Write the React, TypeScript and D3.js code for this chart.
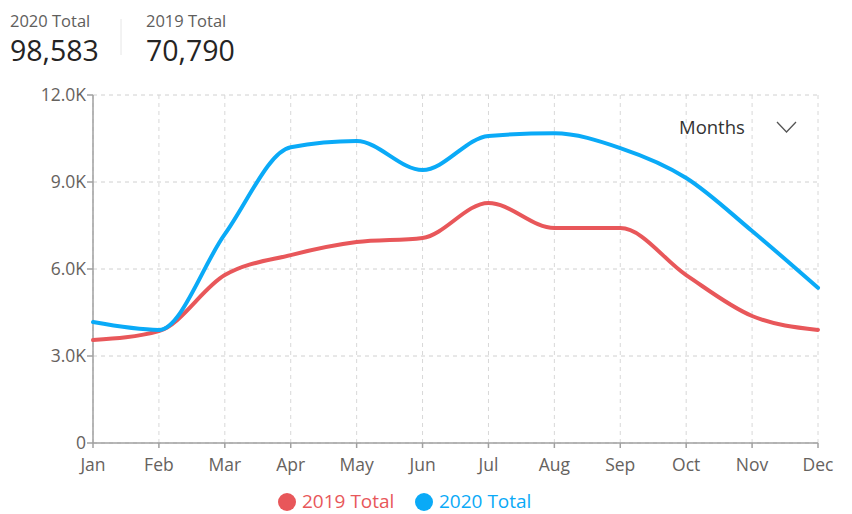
import React from "react";
import * as d3 from "d3";

const months = ["Jan", "Feb", "Mar", "Apr", "May", "Jun", "Jul", "Aug", "Sep", "Oct", "Nov", "Dec"];
const values2019 = [3550, 3860, 5790, 6480, 6930, 7070, 8280, 7410, 7410, 5790, 4380, 3900];
const values2020 = [4170, 3900, 7200, 10200, 10410, 9410, 10590, 10680, 10170, 9140, 7310, 5350];
const yTicks = [0, 3000, 6000, 9000, 12000];
const kpis = [
  { label: "2020 Total", value: "98,583" },
  { label: "2019 Total", value: "70,790" },
];
const series = [
  { name: "2019 Total", values: values2019, color: "#E8575A" },
  { name: "2020 Total", values: values2020, color: "#0AAAF7" },
];

const W = 852;
const H = 514;
const left = 93;
const right = 818;
const top = 95;
const bottom = 443;
const font = "'Segoe UI', 'Open Sans', 'Noto Sans', sans-serif";

export default function App() {
  const x = d3.scalePoint<string>().domain(months).range([left, right]);
  const y = d3.scaleLinear().domain([0, 12000]).range([bottom, top]);
  const fmt = (v: number) => (v === 0 ? "0" : d3.format(".1f")(v / 1000) + "K");
  const line = d3
    .line<number>()
    .x((_, i) => x(months[i]) as number)
    .y((d) => y(d))
    .curve(d3.curveMonotoneX);

  return (
    <div style={{ position: "absolute", left: 0, top: 0 }}>
      <svg width={W} height={H} style={{ display: "block", fontFamily: font }}>
        <rect width={W} height={H} fill="#fff" />
        {/* KPIs */}
        {kpis.map((k, i) => (
          <g key={k.label} transform={`translate(${10 + i * 136},0)`}>
            <text x={0} y={27} fontSize={16.5} fill="#605E5C">{k.label}</text>
            <text x={0} y={61} fontSize={28.5} fill="#252423">{k.value}</text>
          </g>
        ))}
        <line x1={121} x2={121} y1={19} y2={55} stroke="#E6E6E6" strokeWidth={1} />

        {/* grid */}
        {yTicks.map((t) => (
          <line key={"gy" + t} x1={left} x2={right} y1={y(t)} y2={y(t)} stroke="#D0D0D0" strokeDasharray="4,4" />
        ))}
        {months.map((m) => (
          <line key={"gx" + m} x1={x(m)} x2={x(m)} y1={top} y2={bottom} stroke="#D8D8D8" strokeDasharray="4,4" />
        ))}

        {/* axes */}
        <line x1={left} x2={left} y1={top} y2={bottom} stroke="#A0A0A0" strokeWidth={1.5} />
        <line x1={left} x2={right} y1={bottom} y2={bottom} stroke="#A0A0A0" strokeWidth={1.5} />
        {yTicks.map((t) => (
          <g key={"yt" + t}>
            <line x1={left - 6} x2={left} y1={y(t)} y2={y(t)} stroke="#A0A0A0" strokeWidth={1.5} />
            <text x={left - 7} y={y(t)} dy="0.35em" textAnchor="end" fontSize={17.5} fill="#66625E">{fmt(t)}</text>
          </g>
        ))}
        {months.map((m) => (
          <g key={"xt" + m}>
            <line x1={x(m)} x2={x(m)} y1={bottom} y2={bottom + 5} stroke="#A0A0A0" strokeWidth={1.5} />
            <text x={x(m)} y={bottom + 28} textAnchor="middle" fontSize={17.5} fill="#66625E">{m}</text>
          </g>
        ))}

        {/* lines */}
        {series.map((s) => (
          <path key={s.name} d={line(s.values) || ""} fill="none" stroke={s.color} strokeWidth={4} strokeLinecap="round" strokeLinejoin="round" />
        ))}

        {/* Months dropdown */}
        <text x={679} y={134} fontSize={18.5} fill="#333">Months</text>
        <path d="M777,122 L786.5,132 L796,122" fill="none" stroke="#555" strokeWidth={1.3} />

        {/* legend */}
        {series.map((s, i) => (
          <g key={"lg" + s.name} transform={`translate(${287 + i * 137},501)`}>
            <circle cx={0} cy={1} r={9} fill={s.color} />
            <text x={15} y={0} dy="0.35em" fontSize={19} fill={s.color}>{s.name}</text>
          </g>
        ))}
      </svg>
    </div>
  );
}
